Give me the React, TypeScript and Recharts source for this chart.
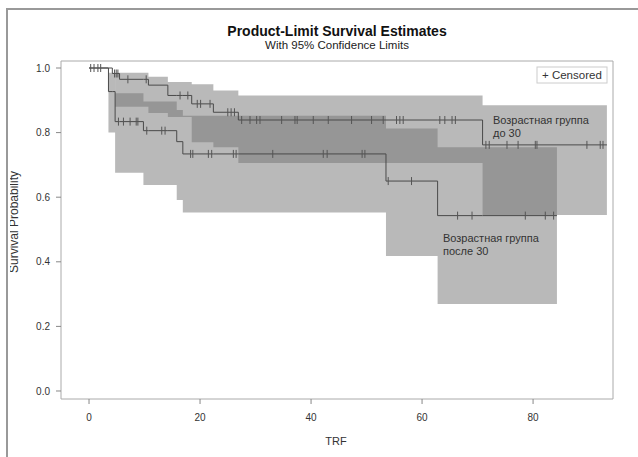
import React from 'react';
import { ComposedChart, Area, Line, Scatter, XAxis, YAxis, ReferenceArea } from 'recharts';

const FONT = '"Liberation Sans", Arial, sans-serif';

const xTicks = [0, 20, 40, 60, 80];
const yTicks = [0, 0.2, 0.4, 0.6, 0.8, 1.0];

// Group "до 30" – Kaplan–Meier estimate
const g1Times = [0, 4.2, 5.5, 10.7, 14.2, 18.5, 22.4, 26.9, 70.9];
const g1Surv = [1.0, 0.983, 0.965, 0.947, 0.915, 0.889, 0.863, 0.839, 0.762];
const g1End = 93.3;
const g1Censored = [0.3, 0.9, 1.6, 2.1, 4.6, 4.9, 5.2, 7.0, 10.3, 16.4, 17.8, 19.5, 20.1, 21.8, 25.0, 25.6, 26.2,
  27.5, 29.0, 30.2, 30.8, 34.7, 37.1, 37.5, 40.4, 43.1, 47.3, 50.9, 53.0, 55.4, 56.0, 56.6, 63.2, 64.1, 65.4, 66.0,
  71.5, 72.1, 75.3, 77.3, 80.4, 80.7, 89.7, 92.1, 92.6];
// Group "до 30" – 95% confidence limits
const b1Times = [4.7, 10.7, 14.2, 18.5, 22.4, 26.9, 70.9];
const b1Lower = [0.88, 0.861, 0.848, 0.77, 0.755, 0.706, 0.545];
const b1Upper = [0.985, 0.973, 0.957, 0.95, 0.93, 0.915, 0.885];

// Group "после 30" – Kaplan–Meier estimate
const g2Times = [0, 3.5, 4.7, 9.8, 15.8, 16.9, 53.5, 62.8];
const g2Surv = [1.0, 0.927, 0.834, 0.806, 0.772, 0.734, 0.65, 0.543];
const g2End = 84.3;
const g2Censored = [5.3, 6.2, 7.4, 8.5, 8.8, 10.4, 13.1, 13.7, 18.3, 18.7, 21.5, 22.1, 26.0, 26.5, 33.1, 42.2, 42.9,
  49.2, 49.7, 53.9, 58.1, 66.4, 69.0, 78.6, 82.2, 83.7];
// Group "после 30" – 95% confidence limits
const b2Times = [3.5, 4.7, 9.8, 15.8, 16.9, 53.5, 62.8];
const b2Lower = [0.80, 0.676, 0.638, 0.591, 0.553, 0.418, 0.269];
const b2Upper = [0.985, 0.922, 0.896, 0.87, 0.852, 0.813, 0.755];

const stepAt = (times: number[], vals: number[], end: number, t: number): number | null => {
  if (t < times[0] - 1e-9 || t > end + 1e-9) return null;
  let v = vals[0];
  for (let i = 0; i < times.length; i++) if (times[i] <= t + 1e-9) v = vals[i];
  return v;
};

const allT = Array.from(new Set([...g1Times, g1End, ...g2Times, g2End, ...b1Times, ...b2Times])).sort((a, b) => a - b);

const rows = allT.map((t) => {
  const l1 = stepAt(b1Times, b1Lower, g1End, t);
  const u1 = stepAt(b1Times, b1Upper, g1End, t);
  const l2 = stepAt(b2Times, b2Lower, g2End, t);
  const u2 = stepAt(b2Times, b2Upper, g2End, t);
  return {
    t,
    s1: stepAt(g1Times, g1Surv, g1End, t),
    s2: stepAt(g2Times, g2Surv, g2End, t),
    b1: l1 == null || u1 == null ? null : [l1, u1],
    b2: l2 == null || u2 == null ? null : [l2, u2],
  };
});

const cens1 = g1Censored.map((t) => ({ t, s: stepAt(g1Times, g1Surv, g1End, t) }));
const cens2 = g2Censored.map((t) => ({ t, s: stepAt(g2Times, g2Surv, g2End, t) }));

const X_DOMAIN: [number, number] = [-5.05, 94.4];
const Y_DOMAIN: [number, number] = [-0.0248, 1.0217];

const CensorMark = (props: any) => {
  const { cx, cy } = props;
  if (cx == null || cy == null) return null;
  return <line x1={cx} x2={cx} y1={cy - 4} y2={cy + 4} stroke="#555" strokeWidth={1} />;
};

export default function App() {
  const tickStyle = { fontSize: 10, fill: '#333', fontFamily: FONT };
  return (
    <div style={{ position: 'absolute', left: 0, top: 0, width: 638, height: 457, background: '#fff' }}>
      <div style={{ position: 'absolute', left: 0, top: 0 }}>
        <ComposedChart width={638} height={457} data={rows} margin={{ top: 61, right: 25, bottom: 0, left: 0 }}>
          <XAxis
            type="number"
            dataKey="t"
            domain={X_DOMAIN}
            ticks={xTicks}
            allowDataOverflow
            axisLine={false}
            tickLine={{ stroke: '#888' }}
            tickSize={5}
            tickMargin={10}
            height={58}
            tick={tickStyle}
          />
          <YAxis
            type="number"
            domain={Y_DOMAIN}
            ticks={yTicks}
            allowDataOverflow
            axisLine={false}
            tickLine={{ stroke: '#888' }}
            tickSize={5}
            tickMargin={6}
            width={61}
            tick={tickStyle}
            tickFormatter={(v: number) => v.toFixed(1)}
          />
          <Area type="stepAfter" dataKey="b1" fill="#737373" fillOpacity={0.5} stroke="none" isAnimationActive={false} />
          <Area type="stepAfter" dataKey="b2" fill="#737373" fillOpacity={0.5} stroke="none" isAnimationActive={false} />
          <Line type="stepAfter" dataKey="s1" stroke="#4a4a4a" strokeWidth={1} dot={false} isAnimationActive={false} />
          <Line type="stepAfter" dataKey="s2" stroke="#4a4a4a" strokeWidth={1} dot={false} isAnimationActive={false} />
          <Scatter data={cens1} dataKey="s" shape={CensorMark} isAnimationActive={false} />
          <Scatter data={cens2} dataKey="s" shape={CensorMark} isAnimationActive={false} />
          <ReferenceArea
            x1={X_DOMAIN[0]}
            x2={X_DOMAIN[1]}
            y1={Y_DOMAIN[0]}
            y2={Y_DOMAIN[1]}
            fill="none"
            stroke="#aaa"
            strokeWidth={1}
            ifOverflow="visible"
          />
        </ComposedChart>
      </div>
      <svg width={638} height={457} style={{ position: 'absolute', left: 0, top: 0, pointerEvents: 'none' }}>
        <defs>
          <clipPath id="ylabclip">
            <rect x={10} y={0} width={40} height={457} />
          </clipPath>
        </defs>
        <rect x={7} y={9} width={700} height={500} fill="none" stroke="#999" strokeWidth={2} />
        <text x={337} y={36} textAnchor="middle" fontFamily={FONT} fontWeight="bold" fontSize={14} fill="#111">
          Product-Limit Survival Estimates
        </text>
        <text x={337} y={49} textAnchor="middle" fontFamily={FONT} fontSize={11.5} fill="#222">
          With 95% Confidence Limits
        </text>
        <text x={336} y={445} textAnchor="middle" fontFamily={FONT} fontSize={11} fill="#333">
          TRF
        </text>
        <g clipPath="url(#ylabclip)">
          <text
            x={0}
            y={0}
            transform="translate(18,222) rotate(-90)"
            textAnchor="middle"
            fontFamily={FONT}
            fontSize={12}
            fill="#333"
          >
            Survival Probability
          </text>
        </g>
        <rect x={537} y={67} width={70} height={16} fill="#fff" stroke="#ccc" strokeWidth={1} />
        <text x={542} y={79} fontFamily={FONT} fontSize={11.5} fill="#333">
          + Censored
        </text>
        <text x={493} y={124} fontFamily={FONT} fontSize={11} fill="#333">
          Возрастная группа
        </text>
        <text x={493} y={136.5} fontFamily={FONT} fontSize={11} fill="#333">
          до 30
        </text>
        <text x={443} y={242} fontFamily={FONT} fontSize={11} fill="#333">
          Возрастная группа
        </text>
        <text x={443} y={254.5} fontFamily={FONT} fontSize={11} fill="#333">
          после 30
        </text>
      </svg>
    </div>
  );
}
